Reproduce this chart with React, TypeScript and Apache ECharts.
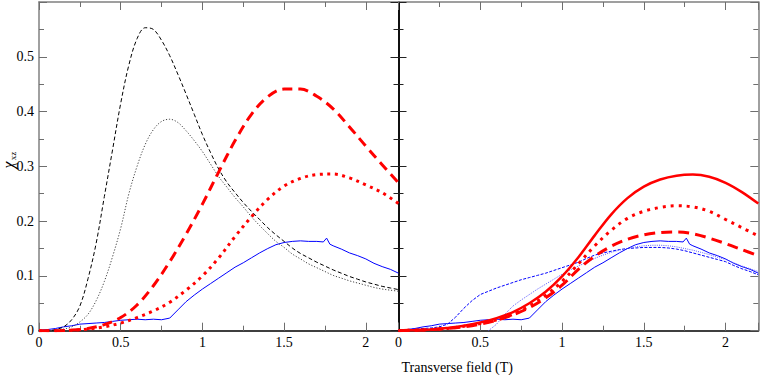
import React, { useEffect, useRef } from "react";
import * as echarts from "echarts";

// Transverse field grids (T)
const fieldFine = [0, 0.05, 0.1, 0.15, 0.2, 0.25, 0.3, 0.35, 0.4, 0.45, 0.5, 0.55, 0.6, 0.65, 0.7, 0.75, 0.8, 0.85, 0.9, 0.95, 1, 1.05, 1.1, 1.15, 1.2, 1.25, 1.3, 1.35, 1.4, 1.45, 1.5, 1.55, 1.6, 1.65, 1.7, 1.75, 1.8, 1.85, 1.9, 1.95, 2, 2.05, 2.1, 2.15, 2.2];
const fieldCoarse = [0, 0.1, 0.2, 0.3, 0.4, 0.5, 0.6, 0.7, 0.8, 0.9, 1, 1.1, 1.2, 1.3, 1.4, 1.5, 1.6, 1.7, 1.8, 1.9, 2, 2.1, 2.2];
const expField = [0, 0.05, 0.1, 0.15, 0.2, 0.25, 0.3, 0.35, 0.4, 0.45, 0.5, 0.55, 0.6, 0.65, 0.7, 0.75, 0.8, 0.85, 0.9, 0.95, 1, 1.05, 1.1, 1.15, 1.2, 1.25, 1.3, 1.35, 1.4, 1.45, 1.5, 1.55, 1.6, 1.65, 1.7, 1.74, 1.76, 1.78, 1.8, 1.85, 1.9, 1.95, 2, 2.05, 2.1, 2.15, 2.2];
const dottedField = [0.55, 0.6, 0.65, 0.7, 0.75, 0.8, 0.85, 0.9, 0.95, 1, 1.05, 1.1, 1.15, 1.2, 1.25, 1.3, 1.35, 1.4, 1.45, 1.5, 1.55, 1.6, 1.65, 1.7, 1.75, 1.8, 1.85, 1.9, 1.95, 2, 2.05, 2.1, 2.15, 2.2];

// Left panel
const blackDashed = [0, 0, 0.002, 0.007, 0.02, 0.045, 0.095, 0.16, 0.245, 0.33, 0.415, 0.485, 0.533, 0.553, 0.55, 0.53, 0.502, 0.468, 0.432, 0.395, 0.358, 0.325, 0.295, 0.271, 0.252, 0.234, 0.218, 0.203, 0.188, 0.175, 0.163, 0.151, 0.141, 0.133, 0.125, 0.118, 0.111, 0.105, 0.099, 0.094, 0.089, 0.085, 0.081, 0.078, 0.075];
const blackDotted = [0, 0, 0.001, 0.003, 0.007, 0.016, 0.03, 0.055, 0.09, 0.135, 0.187, 0.25, 0.3, 0.34, 0.367, 0.382, 0.386, 0.38, 0.365, 0.347, 0.327, 0.304, 0.281, 0.262, 0.243, 0.226, 0.208, 0.192, 0.177, 0.163, 0.152, 0.14, 0.131, 0.122, 0.115, 0.108, 0.101, 0.096, 0.091, 0.087, 0.083, 0.079, 0.076, 0.074, 0.072];
const redDashedLeft = [0, 0, 0.001, 0.004, 0.011, 0.024, 0.047, 0.082, 0.126, 0.176, 0.231, 0.29, 0.347, 0.395, 0.427, 0.441, 0.441, 0.428, 0.405, 0.372, 0.337, 0.303, 0.27];
const redDottedLeft = [0, 0, 0.001, 0.003, 0.007, 0.014, 0.024, 0.036, 0.052, 0.074, 0.1, 0.133, 0.172, 0.208, 0.24, 0.264, 0.278, 0.285, 0.286, 0.279, 0.266, 0.252, 0.232];

// Experimental (both panels)
const blueSolid = [0.001, 0.002, 0.004, 0.007, 0.009, 0.012, 0.013, 0.014, 0.015, 0.017, 0.019, 0.02, 0.021, 0.02, 0.021, 0.02, 0.023, 0.038, 0.053, 0.065, 0.076, 0.086, 0.096, 0.106, 0.116, 0.124, 0.133, 0.142, 0.15, 0.157, 0.161, 0.163, 0.164, 0.163, 0.163, 0.162, 0.169, 0.158, 0.155, 0.149, 0.142, 0.137, 0.131, 0.123, 0.117, 0.112, 0.105];

// Right panel
const blueDashed = [0.001, 0.002, 0.003, 0.004, 0.005, 0.007, 0.012, 0.025, 0.041, 0.055, 0.066, 0.072, 0.078, 0.083, 0.088, 0.093, 0.097, 0.101, 0.105, 0.11, 0.115, 0.12, 0.125, 0.132, 0.138, 0.142, 0.145, 0.148, 0.15, 0.151, 0.152, 0.152, 0.152, 0.151, 0.149, 0.146, 0.142, 0.138, 0.134, 0.13, 0.126, 0.119, 0.113, 0.108, 0.102];
const blueDotted = [0, 0.012, 0.03, 0.045, 0.056, 0.066, 0.076, 0.085, 0.094, 0.103, 0.111, 0.118, 0.125, 0.132, 0.138, 0.143, 0.147, 0.15, 0.153, 0.155, 0.156, 0.156, 0.155, 0.153, 0.15, 0.147, 0.143, 0.139, 0.134, 0.13, 0.124, 0.118, 0.113, 0.108];
const redSolidRight = [0, 0.001, 0.002, 0.005, 0.009, 0.015, 0.023, 0.034, 0.05, 0.071, 0.099, 0.134, 0.174, 0.212, 0.242, 0.263, 0.276, 0.283, 0.285, 0.281, 0.27, 0.253, 0.232];
const redDottedRight = [0, 0.001, 0.002, 0.004, 0.008, 0.013, 0.02, 0.03, 0.045, 0.065, 0.09, 0.122, 0.155, 0.183, 0.205, 0.218, 0.225, 0.228, 0.226, 0.218, 0.203, 0.188, 0.173];
const redDashedRight = [0, 0.001, 0.002, 0.004, 0.007, 0.012, 0.019, 0.029, 0.042, 0.06, 0.083, 0.112, 0.136, 0.154, 0.167, 0.175, 0.179, 0.18, 0.177, 0.169, 0.159, 0.148, 0.137];

const xTicks = [0, 0.5, 1, 1.5, 2];
const yTicks = [0, 0.1, 0.2, 0.3, 0.4, 0.5];

const pairs = (xs: number[], ys: number[]) => xs.map((x, i) => [x, ys[i]]);

const FONT = "Liberation Serif";
const GRAY = "#808080";
const TICK = "#6e6e6e";

export default function App() {
  const ref = useRef<HTMLDivElement>(null);
  useEffect(() => {
    const chart = echarts.init(ref.current!, null, { renderer: "svg" });

    const xAxis = (gridIndex: number, position: string, lineColor: string, showLabel: boolean) => ({
      type: "value",
      gridIndex,
      position,
      min: 0,
      max: 2.2,
      interval: 0.5,
      axisLine: { show: true, onZero: false, lineStyle: { color: lineColor, width: 1.5 } },
      axisTick: { show: true, inside: true, length: 8, lineStyle: { color: TICK, width: 1 } },
      minorTick: { show: true, splitNumber: 2, length: 5, lineStyle: { color: TICK, width: 1 } },
      splitLine: { show: false },
      minorSplitLine: { show: false },
      axisLabel: {
        show: showLabel,
        margin: 5,
        fontSize: 14,
        fontFamily: FONT,
        color: "#000",
        showMaxLabel: false,
        formatter: (v: number) => (xTicks.some((t) => Math.abs(t - v) < 1e-6) ? String(v) : ""),
      },
    });
    const yAxis = (gridIndex: number, position: string, lineColor: string, showLabel: boolean, tickColor: string) => ({
      type: "value",
      gridIndex,
      position,
      min: 0,
      max: 0.6,
      interval: 0.1,
      axisLine: { show: true, onZero: false, lineStyle: { color: lineColor, width: 1.5 } },
      axisTick: { show: true, inside: true, length: 8, lineStyle: { color: tickColor, width: 1 } },
      minorTick: { show: true, splitNumber: 2, length: 5, lineStyle: { color: tickColor, width: 1 } },
      splitLine: { show: false },
      minorSplitLine: { show: false },
      axisLabel: {
        show: showLabel,
        margin: 5,
        fontSize: 14,
        fontFamily: FONT,
        color: "#000",
        showMaxLabel: false,
        formatter: (v: number) => (yTicks.some((t) => Math.abs(t - v) < 1e-6) ? String(Math.round(v * 10) / 10) : ""),
      },
    });

    const line = (name: string, xi: number, yi: number, data: number[][], color: string, width: number, type: any, smooth: number | boolean = 0.35) => ({
      name,
      type: "line",
      xAxisIndex: xi,
      yAxisIndex: yi,
      data,
      showSymbol: false,
      symbol: "none",
      smooth,
      lineStyle: { color, width, type, cap: "butt", join: "round" },
      silent: true,
      z: 3,
    });

    const option = {
      animation: false,
      backgroundColor: "#fff",
      textStyle: { fontFamily: FONT },
      grid: [
        { left: 39, top: 2, width: 359.5, height: 328.7 },
        { left: 398.5, top: 2, width: 359.8, height: 328.7 },
      ],
      xAxis: [
        xAxis(0, "bottom", "#000", true),
        xAxis(0, "top", GRAY, false),
        xAxis(1, "bottom", "#000", true),
        xAxis(1, "top", GRAY, false),
      ],
      yAxis: [
        yAxis(0, "left", GRAY, true, TICK),
        yAxis(0, "right", "#000", false, "#222"),
        yAxis(1, "left", "#000", false, "#222"),
        yAxis(1, "right", GRAY, false, TICK),
      ],
      series: [
        // Left panel
        line("exp-left", 0, 0, pairs(expField, blueSolid), "#0000ff", 1, "solid", false),
        line("black-dotted", 0, 0, pairs(fieldFine, blackDotted), "#444", 1, [1.2, 1.8]),
        line("black-dashed", 0, 0, pairs(fieldFine, blackDashed), "#000", 1, [4, 2.5]),
        line("red-dotted-left", 0, 0, pairs(fieldCoarse, redDottedLeft), "#ff0000", 3, [3, 4.5]),
        line("red-dashed-left", 0, 0, pairs(fieldCoarse, redDashedLeft), "#ff0000", 3, [10, 6]),
        // Right panel
        line("exp-right", 2, 2, pairs(expField, blueSolid), "#0000ff", 1, "solid", false),
        line("blue-dashed", 2, 2, pairs(fieldFine, blueDashed), "#0000ff", 1, [3, 1.5], false),
        line("blue-dotted", 2, 2, pairs(dottedField, blueDotted), "#5a5aff", 1, [1, 1.2], false),
        line("red-dashed-right", 2, 2, pairs(fieldCoarse, redDashedRight), "#ff0000", 3, [11, 6]),
        line("red-dotted-right", 2, 2, pairs(fieldCoarse, redDottedRight), "#ff0000", 3, [3, 5]),
        line("red-solid-right", 2, 2, pairs(fieldCoarse, redSolidRight), "#ff0000", 2.5, "solid"),
      ],
      graphic: [
        {
          type: "text",
          x: 401.5,
          y: 367,
          style: { text: "Transverse field (T)", fontSize: 14, fontFamily: FONT, fill: "#000", verticalAlign: "middle", align: "left" },
        },
        {
          type: "text",
          x: 8.5,
          y: 165,
          rotation: Math.PI / 2,
          style: { text: "χ", fontSize: 16, fontStyle: "italic", fontFamily: FONT, fill: "#000", verticalAlign: "middle", align: "center" },
        },
        {
          type: "text",
          x: 13,
          y: 156,
          rotation: Math.PI / 2,
          style: { text: "xz", fontSize: 9, fontFamily: FONT, fill: "#000", verticalAlign: "middle", align: "center" },
        },
      ],
    };
    chart.setOption(option as any);
    return () => chart.dispose();
  }, []);
  return <div ref={ref} style={{ position: "absolute", left: 0, top: 0, width: 761, height: 375 }} />;
}
